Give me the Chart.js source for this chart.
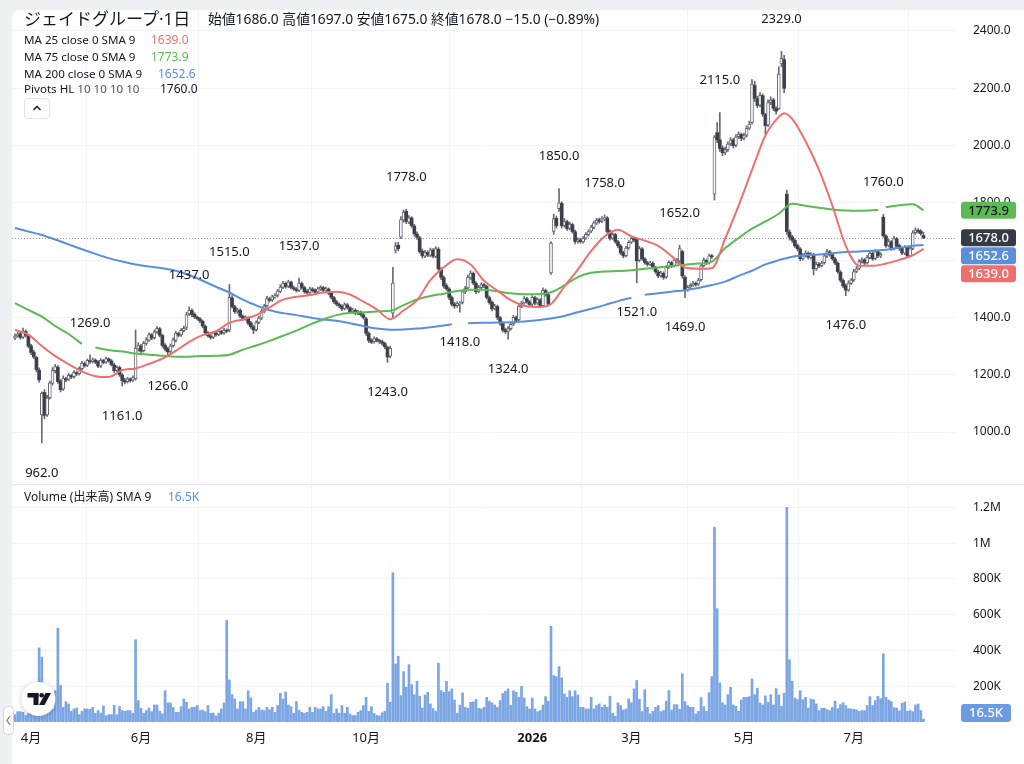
<!DOCTYPE html>
<html><head><meta charset="utf-8">
<script src="https://cdn.jsdelivr.net/npm/chart.js@4.4.1/dist/chart.umd.min.js"></script>
<style>
html,body{margin:0;padding:0;width:1024px;height:764px;overflow:hidden;background:#eef0f3;font-family:"Noto Sans","Noto Sans CJK JP",sans-serif;}
#panel{position:absolute;left:12px;top:10px;width:1012px;height:754px;background:#fff;border-top-left-radius:8px;}
#wp{position:absolute;left:0;top:0;width:1024px;height:484px;}
#wv{position:absolute;left:0;top:484px;width:1024px;height:280px;}
.t{position:absolute;white-space:nowrap;color:#131722;line-height:16px;z-index:5;}
#btn{position:absolute;left:24px;top:98px;width:26px;height:21px;border:1px solid #e0e3eb;border-radius:4px;background:#fff;z-index:5;box-sizing:border-box;}
</style></head><body>
<div id="panel"></div>
<div id="wp"><canvas id="cp" width="1024" height="484"></canvas></div>
<div id="wv"><canvas id="cv" width="1024" height="280"></canvas></div>
<div class="t" style="left:24px;top:8px;font-size:17px;line-height:22px;">ジェイドグループ·1日</div>
<div class="t" style="left:208px;top:11px;font-size:13.8px;">始値1686.0 高値1697.0 安値1675.0 終値1678.0 −15.0 (−0.89%)</div>
<div class="t" style="left:24px;top:32px;font-size:11.6px;">MA 25 close 0 SMA 9</div>
<div class="t" style="left:151px;top:32px;font-size:12px;color:#ef6f70;">1639.0</div>
<div class="t" style="left:24px;top:49px;font-size:11.6px;">MA 75 close 0 SMA 9</div>
<div class="t" style="left:151px;top:49px;font-size:12px;color:#5cba55;">1773.9</div>
<div class="t" style="left:24px;top:66px;font-size:11.6px;">MA 200 close 0 SMA 9</div>
<div class="t" style="left:158px;top:66px;font-size:12px;color:#5b8fdc;">1652.6</div>
<div class="t" style="left:24px;top:81px;font-size:11.6px;">Pivots HL <span style="color:#555">10 10 10 10</span></div>
<div class="t" style="left:160px;top:81px;font-size:12px;">1760.0</div>
<div id="btn"><svg width="24" height="19" viewBox="0 0 24 19"><polyline points="8.5,11 12,7.5 15.5,11" fill="none" stroke="#131722" stroke-width="1.4"/></svg></div>
<div class="t" style="left:24px;top:489px;font-size:12px;">Volume (出来高) SMA 9</div>
<div class="t" style="left:168px;top:489px;font-size:12px;color:#5b8fdc;">16.5K</div>
<script>
const opens=[1328,1336,1343,1331,1351,1336,1301,1279,1260,1216,
1060,1138,1060,1120,1170,1214,1226,1178,1150,1186,
1184,1197,1193,1207,1204,1221,1239,1233,1249,1246,
1251,1245,1231,1249,1244,1255,1248,1234,1215,1225,
1199,1181,1176,1185,1181,1186,1290,1300,1284,1309,
1321,1339,1329,1349,1360,1337,1303,1291,1281,1301,
1320,1344,1339,1354,1365,1412,1424,1411,1401,1395,
1387,1369,1347,1335,1331,1345,1341,1351,1346,1355,
1356,1468,1437,1419,1425,1404,1395,1399,1381,1367,
1357,1383,1397,1421,1441,1465,1461,1471,1477,1491,
1505,1519,1509,1523,1504,1499,1495,1518,1504,1491,
1487,1499,1495,1489,1499,1504,1496,1499,1484,1469,
1454,1445,1439,1431,1444,1434,1421,1425,1414,1419,
1409,1395,1344,1321,1315,1325,1319,1315,1309,1296,
1265,1415,1635,1652,1680,1740,1770,1733,1747,1719,
1691,1678,1631,1614,1627,1617,1635,1613,1638,1568,
1539,1511,1499,1469,1447,1441,1447,1452,1489,1503,
1538,1554,1519,1491,1504,1514,1508,1469,1453,1431,
1438,1399,1379,1357,1351,1361,1377,1399,1392,1439,
1451,1465,1454,1446,1469,1451,1461,1441,1494,1479,
1555,1700,1746,1780,1798,1721,1734,1711,1724,1699,
1664,1671,1664,1677,1689,1701,1714,1729,1741,1736,
1744,1747,1701,1677,1689,1664,1649,1626,1616,1643,
1663,1676,1672,1600,1639,1604,1591,1586,1589,1574,
1559,1546,1554,1541,1576,1591,1581,1601,1596,1630,
1540,1496,1506,1513,1519,1516,1532,1581,1599,1591,
1614,1830,2045,2020,1991,1976,1986,2006,2019,2001,
2031,2039,2026,2036,2061,2080,2210,2164,2141,2174,
2108,2072,2151,2159,2129,2130,2285,2300,1830,1698,
1681,1669,1651,1639,1606,1616,1624,1609,1619,1569,
1586,1581,1591,1614,1629,1619,1604,1589,1558,1529,
1511,1496,1519,1531,1561,1571,1594,1601,1591,1609,
1624,1606,1629,1614,1750,1684,1651,1664,1641,1674,
1651,1641,1624,1644,1616,1641,1696,1704,1701,1686];
const highs=[1343,1348,1348,1363,1356,1340,1306,1285,1264,1224,
1140,1148,1128,1178,1225,1236,1232,1183,1196,1192,
1205,1202,1214,1212,1228,1247,1245,1255,1269,1258,
1256,1249,1256,1254,1262,1259,1253,1240,1231,1230,
1204,1187,1191,1189,1196,1356,1312,1306,1317,1330,
1346,1344,1356,1368,1365,1341,1309,1296,1307,1329,
1351,1349,1361,1370,1418,1437,1430,1416,1405,1400,
1391,1374,1351,1340,1351,1349,1357,1355,1362,1360,
1515,1476,1443,1432,1430,1409,1406,1403,1386,1373,
1388,1404,1429,1446,1474,1471,1478,1483,1498,1514,
1526,1524,1530,1527,1510,1504,1537,1524,1509,1497,
1506,1504,1500,1506,1511,1509,1506,1503,1489,1474,
1460,1450,1444,1451,1449,1438,1432,1430,1426,1423,
1414,1400,1350,1326,1332,1330,1324,1321,1314,1300,
1300,1575,1662,1662,1752,1775,1778,1756,1752,1725,
1699,1684,1639,1634,1633,1642,1640,1647,1644,1574,
1545,1518,1504,1475,1453,1455,1455,1496,1509,1548,
1563,1559,1525,1512,1521,1519,1512,1475,1458,1446,
1443,1404,1384,1363,1368,1383,1408,1405,1448,1456,
1473,1470,1459,1476,1474,1468,1466,1503,1499,1485,
1665,1760,1754,1850,1804,1745,1740,1733,1729,1705,
1678,1677,1682,1696,1706,1722,1736,1746,1747,1752,
1758,1752,1706,1696,1694,1669,1655,1631,1648,1668,
1682,1681,1678,1648,1644,1609,1596,1596,1594,1579,
1564,1561,1559,1581,1598,1596,1607,1606,1652,1635,
1546,1511,1518,1526,1524,1536,1588,1608,1604,1621,
1620,2035,2080,2115,1999,1995,2013,2028,2025,2038,
2048,2044,2044,2069,2085,2230,2225,2172,2185,2180,
2113,2160,2170,2165,2135,2275,2329,2315,1845,1706,
1687,1674,1657,1644,1623,1633,1629,1626,1624,1593,
1592,1596,1623,1638,1634,1624,1610,1594,1564,1535,
1517,1528,1536,1568,1578,1602,1608,1606,1617,1633,
1629,1637,1634,1626,1760,1689,1673,1669,1683,1679,
1656,1646,1651,1648,1646,1703,1713,1710,1707,1697];
const lows=[1322,1331,1324,1326,1332,1294,1270,1256,1210,1174,
962,1046,1054,1115,1164,1206,1170,1140,1145,1176,
1179,1186,1188,1197,1199,1216,1226,1228,1239,1241,
1238,1225,1225,1238,1239,1243,1230,1208,1209,1194,
1161,1168,1171,1174,1176,1181,1282,1275,1279,1303,
1316,1322,1324,1344,1332,1296,1283,1266,1276,1296,
1314,1332,1334,1349,1357,1406,1402,1396,1391,1382,
1364,1340,1331,1324,1326,1335,1336,1340,1341,1347,
1350,1432,1414,1414,1399,1390,1390,1374,1362,1343,
1352,1378,1392,1416,1436,1454,1456,1466,1471,1486,
1500,1502,1504,1499,1494,1488,1490,1499,1484,1480,
1482,1488,1482,1484,1494,1489,1491,1479,1464,1449,
1440,1434,1424,1426,1429,1414,1416,1409,1409,1404,
1394,1337,1312,1308,1310,1314,1309,1303,1290,1243,
1259,1400,1625,1632,1675,1732,1727,1727,1714,1684,
1672,1624,1607,1609,1612,1612,1608,1608,1562,1532,
1502,1494,1462,1440,1432,1435,1418,1447,1483,1498,
1532,1514,1483,1486,1498,1504,1464,1446,1423,1426,
1392,1372,1349,1344,1324,1356,1372,1384,1386,1434,
1446,1449,1439,1441,1444,1445,1434,1436,1474,1440,
1550,1690,1712,1770,1712,1715,1704,1706,1694,1657,
1659,1659,1659,1672,1684,1696,1709,1724,1729,1731,
1738,1694,1670,1672,1659,1643,1619,1608,1611,1638,
1658,1664,1521,1594,1599,1586,1579,1581,1569,1553,
1539,1540,1533,1536,1571,1574,1576,1589,1590,1537,
1469,1491,1501,1508,1509,1511,1527,1576,1584,1586,
1606,1810,2010,1980,1965,1968,1980,2000,1992,1995,
2025,2017,2020,2030,2055,2075,2154,2132,2135,2102,
2040,2066,2143,2122,2110,2125,2275,2185,1690,1670,
1662,1644,1633,1597,1600,1611,1604,1604,1548,1564,
1574,1576,1586,1609,1614,1599,1584,1554,1523,1503,
1476,1491,1514,1526,1556,1566,1589,1584,1586,1604,
1599,1601,1609,1609,1680,1644,1646,1634,1636,1644,
1634,1619,1619,1609,1611,1636,1690,1694,1687,1675];
const closes=[1335,1342,1330,1352,1338,1300,1278,1262,1218,1182,
1135,1058,1118,1172,1215,1228,1176,1148,1188,1182,
1198,1192,1208,1203,1222,1240,1232,1250,1245,1252,
1244,1230,1250,1243,1256,1249,1235,1214,1226,1200,
1180,1175,1186,1180,1190,1292,1302,1282,1310,1322,
1340,1328,1350,1362,1338,1302,1290,1280,1300,1322,
1345,1338,1355,1362,1410,1425,1410,1402,1396,1388,
1370,1346,1336,1330,1346,1340,1352,1345,1356,1352,
1470,1438,1420,1426,1405,1396,1400,1380,1368,1356,
1382,1398,1422,1440,1466,1460,1472,1476,1492,1506,
1520,1508,1524,1505,1500,1494,1520,1505,1490,1486,
1500,1494,1488,1500,1505,1495,1500,1485,1470,1455,
1446,1440,1430,1445,1435,1420,1426,1415,1420,1410,
1400,1345,1320,1314,1326,1320,1316,1310,1298,1262,
1292,1520,1650,1640,1742,1768,1735,1748,1720,1692,
1680,1630,1615,1626,1618,1636,1614,1640,1570,1540,
1510,1500,1470,1446,1440,1448,1450,1490,1502,1540,
1555,1520,1490,1505,1515,1510,1470,1452,1430,1440,
1400,1380,1356,1350,1360,1376,1400,1390,1440,1450,
1466,1455,1445,1470,1450,1462,1440,1495,1480,1446,
1660,1745,1720,1800,1720,1735,1710,1725,1700,1665,
1670,1665,1676,1690,1700,1715,1730,1740,1735,1745,
1748,1700,1676,1690,1665,1650,1625,1615,1642,1662,
1675,1670,1598,1640,1605,1592,1585,1590,1575,1560,
1545,1555,1540,1575,1592,1580,1600,1595,1640,1545,
1495,1505,1512,1520,1515,1530,1580,1600,1590,1615,
1612,2030,2020,1990,1975,1985,2005,2020,2000,2030,
2040,2025,2035,2060,2075,2215,2165,2140,2175,2110,
2070,2150,2160,2130,2120,2250,2305,2200,1700,1680,
1670,1650,1640,1605,1615,1625,1610,1620,1570,1585,
1580,1590,1615,1630,1620,1605,1590,1560,1530,1510,
1495,1520,1530,1560,1570,1595,1600,1590,1610,1625,
1605,1630,1615,1620,1685,1650,1665,1640,1675,1650,
1640,1625,1645,1615,1640,1695,1705,1700,1693,1678];
const volumeK=[41,58,58,54,36,49,64,73,64,415,
363,101,64,82,73,175,525,204,82,114,
101,60,73,78,41,60,73,73,71,82,
49,64,50,90,36,41,41,93,41,86,
64,60,64,64,49,460,120,77,49,64,
78,58,95,95,60,45,175,107,107,82,
54,54,86,129,110,73,82,82,92,64,
67,58,92,49,50,34,50,73,107,568,
235,153,129,73,114,114,73,175,135,54,
67,82,67,64,82,69,82,54,92,160,
129,168,95,86,49,114,67,54,49,54,
82,54,82,73,73,86,60,86,153,49,
73,49,92,49,82,45,36,36,54,64,
92,138,60,86,49,37,34,52,60,217,
110,835,325,368,148,282,195,321,209,153,
228,144,78,151,166,101,75,60,329,176,
166,228,170,185,123,49,95,163,82,77,
110,112,125,77,73,82,138,116,107,95,
82,120,159,172,185,93,175,166,138,200,
134,86,73,134,73,58,64,95,142,116,
535,260,254,310,247,157,138,175,142,175,
151,82,82,73,73,138,73,92,101,82,
95,82,144,49,32,107,92,67,73,129,
108,185,232,127,58,180,82,45,60,82,
92,58,64,116,176,67,97,97,71,270,
114,92,82,82,45,60,136,86,60,164,
254,1090,634,219,108,95,153,194,95,88,
60,123,138,138,142,241,153,189,107,95,
146,110,153,95,187,151,88,161,1200,348,
228,134,125,175,125,138,78,129,125,101,
64,77,77,69,64,82,116,75,97,108,
92,75,73,71,67,60,64,64,92,142,
92,120,144,131,381,138,123,114,80,78,
62,105,112,60,64,58,95,101,64,16.5];
const ma25Idx=[0,5,10,15,20,25,30,35,40,45,50,55,60,65,70,75,80,85,90,95,100,105,110,115,120,125,130,135,140,145,150,155,160,165,170,175,180,185,190,195,200,205,210,215,220,225,230,235,240,245,250,255,260,265,270,275,280,285,287,290,295,300,305,310,315,320,325,330,335,339];
const ma25=[1356,1340,1300,1265,1237,1211,1195,1192,1216,1222,1238,1256,1283,1315,1338,1352,1381,1393,1408,1435,1462,1472,1478,1487,1490,1480,1455,1428,1394,1425,1460,1530,1575,1603,1585,1528,1494,1460,1441,1436,1447,1508,1567,1632,1683,1706,1683,1668,1650,1614,1574,1570,1572,1675,1790,1915,2035,2100,2113,2093,2015,1915,1790,1650,1580,1580,1588,1601,1617,1639];
const ma75Idx=[0,5,10,15,20,25,28,30,35,40,45,50,55,60,65,70,75,80,85,90,95,100,105,110,115,120,125,130,135,140,145,150,155,160,165,170,175,180,185,190,195,200,205,210,215,220,225,230,235,240,245,250,255,260,265,270,275,280,285,290,295,300,305,310,315,320,322,323,325,330,335,339];
const ma75=[1450,1426,1403,1370,1342,1307,null,1295,1286,1281,1274,1270,1266,1263,1263,1265,1266,1270,1287,1302,1318,1336,1354,1375,1393,1408,1416,1418,1421,1423,1443,1463,1475,1483,1492,1497,1497,1491,1484,1481,1481,1488,1512,1541,1556,1560,1562,1565,1570,1574,1580,1584,1588,1595,1642,1677,1710,1735,1762,1797,1790,1783,1777,1773,1772,1774,1775,null,1785,1792,1795,1774];
const ma200Idx=[0,5,10,15,20,25,30,35,40,45,50,55,60,65,70,75,80,85,90,95,100,105,110,115,120,125,130,135,140,145,150,155,160,163,165,169,175,180,185,190,195,200,205,210,215,220,225,230,232,235,240,245,250,255,260,265,270,275,280,285,290,295,300,305,310,315,320,325,330,335,339];
const ma200=[1712,1700,1688,1672,1655,1638,1622,1607,1595,1585,1578,1572,1563,1548,1528,1507,1487,1462,1442,1425,1415,1408,1400,1393,1388,1380,1370,1361,1357,1358,1361,1366,1372,1376,null,1380,1381,1382,1383,1386,1390,1396,1405,1418,1430,1443,1457,1469,null,1479,1484,1490,1495,1503,1513,1525,1545,1563,1585,1600,1612,1617,1620,1624,1628,1630,1633,1636,1643,1650,1653];
const pivHiIdx=[28,65,80,106,146,203,220,248,263,286,324];
const pivHiVal=[1269,1437,1515,1537,1778,1850,1758,1652,2115,2329,1760];
const pivLoIdx=[10,40,57,139,166,184,232,250,310];
const pivLoVal=[962,1161,1266,1243,1418,1324,1521,1469,1476];
const monthIdx=[6,47,90,131,193,230,272,313];
const monthLbl=['4月','6月','8月','10月','2026','3月','5月','7月'];
const priceTicks=[1000,1200,1400,1600,1800,2000,2200,2400];
const volTicks=[200000,400000,600000,800000,1000000,1200000];
const volTickLbl=['200K','400K','600K','800K','1M','1.2M'];
const lastVals=[1773.9,1678.0,1652.6,1639.0];
const lastVol=16.5;

const RED='#ef6f70',GREEN='#5cba55',BLUE='#5b8fdc',TXT='#131722',GRID='#f0f3fa';
const FAM='"Noto Sans","Noto Sans CJK JP",sans-serif';
Chart.defaults.font.family=FAM;
const XMIN=-1.12, XMAX=350.75;
function noPad(s){s.paddingTop=0;s.paddingBottom=0;s.paddingLeft=0;s.paddingRight=0;}

const pricePlugin={id:'pp',
 beforeDatasetsDraw(c){const ctx=c.ctx,a=c.chartArea,y=Math.round(c.scales.y.getPixelForValue(closes[closes.length-1]))+0.5;
  ctx.save();ctx.strokeStyle='#9598a1';ctx.lineWidth=1;ctx.setLineDash([1,2]);ctx.beginPath();ctx.moveTo(a.left,y);ctx.lineTo(a.right,y);ctx.stroke();ctx.restore();},
 afterDatasetsDraw(c){const ctx=c.ctx,xs=c.scales.x,ys=c.scales.y;
  ctx.save();ctx.font='13px '+FAM;ctx.fillStyle=TXT;ctx.textAlign='center';ctx.textBaseline='middle';
  pivHiIdx.forEach((ix,k)=>ctx.fillText(pivHiVal[k].toFixed(1),xs.getPixelForValue(ix),ys.getPixelForValue(pivHiVal[k])-32));
  pivLoIdx.forEach((ix,k)=>ctx.fillText(pivLoVal[k].toFixed(1),xs.getPixelForValue(ix),ys.getPixelForValue(pivLoVal[k])+30));
  ctx.restore();},
 afterDraw(c){const ctx=c.ctx,ys=c.scales.y;
  const st=[{bg:GREEN,fg:TXT},{bg:'#363a45',fg:'#fff'},{bg:BLUE,fg:'#fff'},{bg:RED,fg:'#fff'}];
  let items=lastVals.map((v,k)=>({v,y:ys.getPixelForValue(v),s:st[k]})).sort((p,q)=>p.y-q.y);
  const h=18;for(let k=1;k<items.length;k++){if(items[k].y<items[k-1].y+h)items[k].y=items[k-1].y+h;}
  ctx.save();ctx.font='500 13px '+FAM;ctx.textAlign='center';ctx.textBaseline='middle';
  items.forEach(it=>{ctx.fillStyle=it.s.bg;ctx.beginPath();ctx.roundRect(961,it.y-h/2+0.5,55,h-1,3);ctx.fill();ctx.fillStyle=it.s.fg;ctx.fillText(it.v.toFixed(1),988.5,it.y+0.5);});
  ctx.restore();}
};

new Chart(document.getElementById('cp'),{
 type:'bar',
 data:{datasets:[
  {type:'line',data:ma25Idx.map((x,k)=>({x,y:ma25[k]})),borderColor:RED,borderWidth:2,pointRadius:0,cubicInterpolationMode:'monotone',spanGaps:false,order:0},
  {type:'line',data:ma75Idx.map((x,k)=>({x,y:ma75[k]})),borderColor:GREEN,borderWidth:2,pointRadius:0,cubicInterpolationMode:'monotone',spanGaps:false,order:0},
  {type:'line',data:ma200Idx.map((x,k)=>({x,y:ma200[k]})),borderColor:BLUE,borderWidth:2,pointRadius:0,cubicInterpolationMode:'monotone',spanGaps:false,order:0},
  {type:'bar',data:closes.map((cl,i)=>({x:i,y:[opens[i],cl]})),grouped:false,barThickness:3,minBarLength:1,borderSkipped:false,
   backgroundColor:c=>closes[c.dataIndex]>=opens[c.dataIndex]?'#ffffff':'#3d4049',
   borderColor:'#666973',borderWidth:c=>closes[c.dataIndex]>=opens[c.dataIndex]?1:0,order:1},
  {type:'bar',data:highs.map((hh,i)=>({x:i,y:[lows[i],hh]})),grouped:false,barThickness:1,backgroundColor:'#676a74',order:2}
 ]},
 options:{responsive:false,animation:false,
  layout:{padding:{left:12,top:10,right:0,bottom:1}},
  plugins:{legend:{display:false},tooltip:{enabled:false}},
  scales:{
   x:{type:'linear',min:XMIN,max:XMAX,offset:false,afterBuildTicks:s=>{s.ticks=monthIdx.map(v=>({value:v}));},ticks:{display:false},grid:{color:GRID,drawTicks:false},border:{display:false},afterFit:s=>{s.height=0;noPad(s);}},
   y:{position:'right',min:821.95,max:2473.3,afterBuildTicks:s=>{s.ticks=priceTicks.map(v=>({value:v}));},
      ticks:{callback:v=>Number(v).toFixed(1),color:TXT,font:{size:12},padding:18,autoSkip:false},grid:{color:GRID,drawTicks:false},border:{display:false},afterFit:s=>{s.width=69;noPad(s);}}
  }},
 plugins:[pricePlugin]
});

const volPlugin={id:'vp',
 afterDraw(c){const ctx=c.ctx,a=c.chartArea,ys=c.scales.y;
  ctx.save();ctx.strokeStyle='#e0e3eb';ctx.lineWidth=1;ctx.beginPath();ctx.moveTo(12,0.5);ctx.lineTo(1024,0.5);ctx.stroke();
  const h=18;let y=ys.getPixelForValue(lastVol*1000);if(y>a.bottom-h/2)y=a.bottom-h/2;
  ctx.fillStyle='#6a9be3';ctx.beginPath();ctx.roundRect(961,y-h/2,50,h,3);ctx.fill();
  ctx.fillStyle='#fff';ctx.font='500 13px '+FAM;ctx.textAlign='center';ctx.textBaseline='middle';ctx.fillText(lastVol.toFixed(1)+'K',986,y+0.5);
  const cx=38.5,cy=215;
  ctx.save();ctx.shadowColor='rgba(0,0,0,0.2)';ctx.shadowBlur=6;ctx.shadowOffsetY=1;
  ctx.beginPath();ctx.arc(cx,cy,17,0,Math.PI*2);ctx.fillStyle='#fff';ctx.fill();ctx.restore();
  ctx.fillStyle='#131722';
  ctx.fillRect(cx-11,cy-6,11,4.5);ctx.fillRect(cx-5,cy-6,5,12);
  ctx.beginPath();ctx.arc(cx+3.2,cy-3.8,2.3,0,Math.PI*2);ctx.fill();
  ctx.beginPath();ctx.moveTo(cx+7,cy-6);ctx.lineTo(cx+12.5,cy-6);ctx.lineTo(cx+6,cy+6);ctx.lineTo(cx+0.5,cy+6);ctx.closePath();ctx.fill();
  ctx.fillStyle='#fff';ctx.strokeStyle='#d1d4dc';ctx.lineWidth=1;ctx.beginPath();ctx.roundRect(3.5,222.5,10,28,4);ctx.fill();ctx.stroke();
  ctx.strokeStyle='#787b86';ctx.lineWidth=1.2;ctx.beginPath();ctx.moveTo(10,232);ctx.lineTo(7,236.5);ctx.lineTo(10,241);ctx.stroke();
  ctx.restore();}
};

new Chart(document.getElementById('cv'),{
 type:'bar',
 data:{datasets:[{data:volumeK.map((v,i)=>({x:i,y:v*1000})),backgroundColor:'#7ba6e3',barThickness:2,grouped:false}]},
 options:{responsive:false,animation:false,
  layout:{padding:{left:12,top:2,right:0,bottom:0}},
  plugins:{legend:{display:false},tooltip:{enabled:false}},
  scales:{
   x:{type:'linear',min:XMIN,max:XMAX,offset:false,afterBuildTicks:s=>{s.ticks=monthIdx.map(v=>({value:v}));},
      ticks:{callback:v=>monthLbl[monthIdx.indexOf(v)],autoSkip:false,maxRotation:0,padding:8,color:TXT,
        font:c=>({size:13,weight:(c.tick&&c.tick.value===193)?'bold':'normal'})},
      grid:{color:GRID,drawTicks:false},border:{display:false},afterFit:s=>{s.height=42;noPad(s);}},
   y:{position:'right',min:0,max:1320000,afterBuildTicks:s=>{s.ticks=volTicks.map(v=>({value:v}));},
      ticks:{callback:v=>volTickLbl[volTicks.indexOf(v)],color:TXT,font:{size:12},padding:18,autoSkip:false},grid:{color:GRID,drawTicks:false},border:{display:false},afterFit:s=>{s.width=69;noPad(s);}}
  }},
 plugins:[volPlugin]
});
</script>
</body></html>
